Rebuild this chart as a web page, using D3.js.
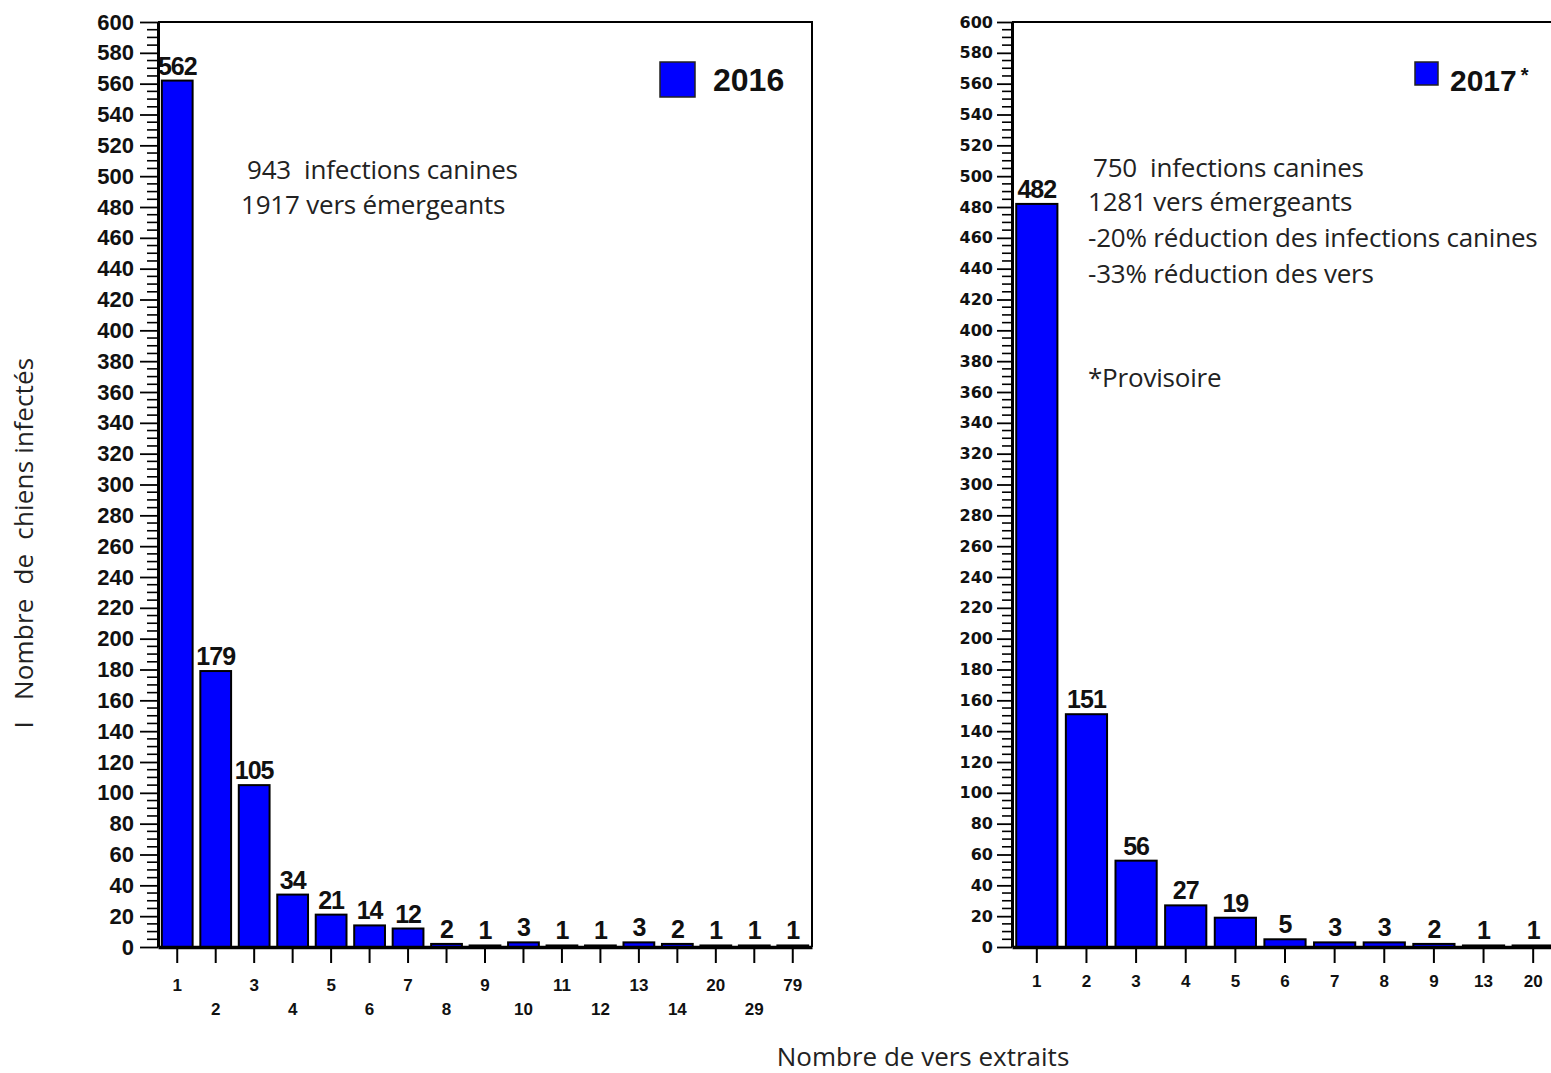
<!DOCTYPE html>
<html><head><meta charset="utf-8">
<script src="https://cdn.jsdelivr.net/npm/d3@7"></script>
<style>body{margin:0;background:#fff}svg{display:block}</style>
</head><body>
<script>
// ---- data ----
const cats2016 = ["1","2","3","4","5","6","7","8","9","10","11","12","13","14","20","29","79"];
const vals2016 = [562,179,105,34,21,14,12,2,1,3,1,1,3,2,1,1,1];
const cats2017 = ["1","2","3","4","5","6","7","8","9","13","20"];
const vals2017 = [482,151,56,27,19,5,3,3,2,1,1];
const notes2016 = ["943  infections canines","1917 vers émergeants"];
const notes2017 = ["750  infections canines","1281 vers émergeants","-20% réduction des infections canines","-33% réduction des vers","*Provisoire"];
const yTitle = "I   Nombre  de  chiens infectés";
const xTitle = "Nombre de vers extraits";

const W = 1551, H = 1073;
const svg = d3.select("body").append("svg").attr("width", W).attr("height", H);
const BLUE = "#0000ff";
const textFont = "'Open Sans', Lato, sans-serif";

function panel(o) {
  const g = svg.append("g");
  const x = d3.scaleBand().domain(o.cats).range([o.x0, o.x1]).paddingInner(o.pad).paddingOuter(o.pad / 2);
  const y = d3.scaleLinear().domain([0, 600]).range([o.y0, o.yTop]);
  // frame
  g.append("path").attr("d", `M${o.x0},${o.yTop}H${o.x1}V${o.y0}`).attr("fill", "none").attr("stroke", "#000").attr("stroke-width", 2);
  // bars
  g.selectAll("rect.bar").data(o.vals).join("rect").attr("class", "bar")
    .attr("x", (d, i) => x(o.cats[i])).attr("width", x.bandwidth())
    .attr("y", d => y(d)).attr("height", d => o.y0 - y(d))
    .attr("fill", BLUE).attr("stroke", "#000").attr("stroke-width", 2);
  // value labels
  g.selectAll("text.val").data(o.vals).join("text").attr("class", "val")
    .attr("x", (d, i) => x(o.cats[i]) + x.bandwidth() / 2)
    .attr("y", d => y(d) - 6)
    .attr("text-anchor", "middle")
    .attr("font-family", "'Liberation Sans', Arial, sans-serif").attr("font-weight", "bold")
    .attr("font-size", 25).attr("letter-spacing", -1)
    .attr("fill", "#111").text(d => d);
  // y axis minor ticks
  const minor = d3.range(0, 601, 5).filter(v => v % 20 !== 0);
  g.selectAll("line.minor").data(minor).join("line").attr("class", "minor")
    .attr("x1", o.x0 - o.minorLen).attr("x2", o.x0).attr("y1", d => y(d)).attr("y2", d => y(d))
    .attr("stroke", "#000").attr("stroke-width", 1.6);
  const yAxis = d3.axisLeft(y).tickValues(d3.range(0, 601, 20)).tickSize(o.majorLen).tickPadding(o.yPad).tickSizeOuter(0);
  const ya = g.append("g").attr("transform", `translate(${o.x0},0)`).call(yAxis);
  ya.select(".domain").attr("stroke-width", 3);
  ya.selectAll(".tick line").attr("stroke-width", 1.8);
  ya.selectAll(".tick text").attr("font-family", o.yFont).attr("font-weight", "bold")
    .attr("font-size", o.yFontSize).attr("fill", "#111");
  // x axis
  const xAxis = d3.axisBottom(x).tickSize(16).tickSizeOuter(0).tickPadding(0);
  const xa = g.append("g").attr("transform", `translate(0,${o.y0})`).call(xAxis);
  xa.select(".domain").attr("stroke-width", 3.5);
  xa.selectAll(".tick line").attr("stroke-width", 2);
  xa.selectAll(".tick text").attr("font-family", "'Liberation Sans', Arial, sans-serif").attr("font-weight", "bold")
    .attr("font-size", o.xFontSize).attr("fill", "#111")
    .attr("dy", null)
    .attr("y", (d, i) => o.stagger ? (i % 2 === 0 ? 44 : 68) : 40);
  // legend
  g.append("rect").attr("x", o.leg.x).attr("y", o.leg.y).attr("width", o.leg.s).attr("height", o.leg.s)
    .attr("fill", BLUE).attr("stroke", "#222").attr("stroke-width", 1.5);
  const lt = g.append("text").attr("x", o.leg.tx).attr("y", o.leg.ty)
    .attr("font-family", "'Liberation Sans', Arial, sans-serif").attr("font-weight", "bold")
    .attr("font-size", o.leg.fs).attr("fill", "#111").text(o.leg.label);
  if (o.leg.sup) lt.append("tspan").attr("font-size", 20).attr("dx", 4).attr("dy", -9).text(o.leg.sup);
  // notes
  g.selectAll("text.note").data(o.notes).join("text").attr("class", "note")
    .attr("x", (d, i) => o.noteX[i]).attr("y", (d, i) => o.noteY[i])
    .attr("font-family", textFont).attr("font-size", 26).attr("fill", "#222")
    .attr("letter-spacing", -0.2)
    .style("white-space", "pre").text(d => d);
}

panel({cats: cats2016, vals: vals2016, x0: 158, x1: 812, y0: 947, yTop: 22, pad: 0.2,
  majorLen: 18, minorLen: 11, yPad: 6, yFont: "'Liberation Sans', Arial, sans-serif", yFontSize: 22,
  xFontSize: 17, stagger: true,
  leg: {x: 660, y: 62, s: 35, tx: 713, ty: 91, fs: 32, label: "2016"},
  notes: notes2016, noteX: [247, 241], noteY: [179, 214]});

panel({cats: cats2017, vals: vals2017, x0: 1012, x1: 1558, y0: 947, yTop: 22, pad: 0.17,
  majorLen: 15, minorLen: 10, yPad: 4, yFont: "'DejaVu Sans', sans-serif", yFontSize: 16,
  xFontSize: 17, stagger: false,
  leg: {x: 1415, y: 62, s: 23, tx: 1450, ty: 91, fs: 30, label: "2017", sup: "*"},
  notes: notes2017, noteX: [1093, 1088, 1088, 1088, 1088], noteY: [177, 211, 247, 283, 387]});

// axis titles
svg.append("text").attr("transform", "translate(33,543) rotate(-90)").attr("text-anchor", "middle")
  .attr("font-family", textFont).attr("font-size", 26).attr("fill", "#222").attr("letter-spacing", 0.2)
  .style("white-space", "pre").text(yTitle);
svg.append("text").attr("x", 923).attr("y", 1066).attr("text-anchor", "middle")
  .attr("font-family", textFont).attr("font-size", 26).attr("fill", "#222").text(xTitle);
</script>
</body></html>
